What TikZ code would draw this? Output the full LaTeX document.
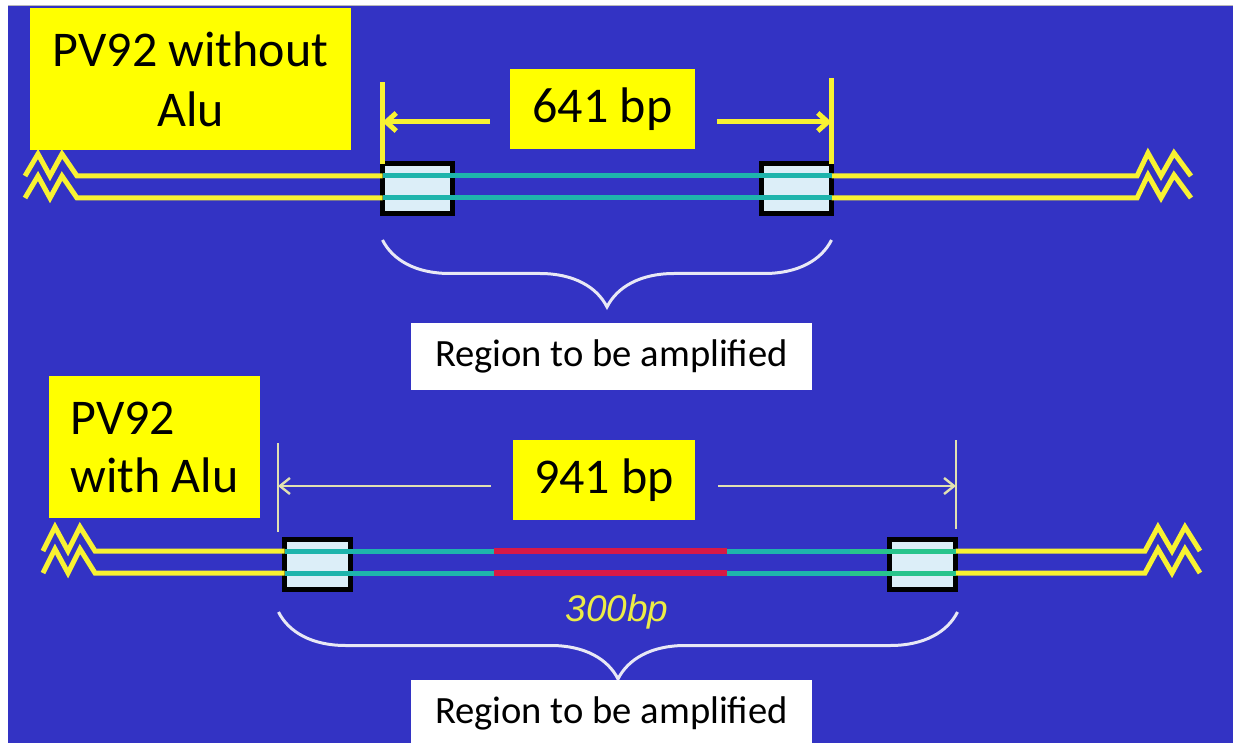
\documentclass[tikz,border=0pt]{standalone}
\usepackage{fontspec}
\setmainfont{Carlito}
\newfontfamily\arialfont{Liberation Sans}
\usetikzlibrary{arrows.meta, positioning, decorations.pathreplacing, calc}

\definecolor{bgblue}{RGB}{51,51,196}
\definecolor{labyellow}{RGB}{255,255,0}
\definecolor{strandyellow}{RGB}{248,242,50}
\definecolor{strandteal}{RGB}{30,180,172}
\definecolor{strandgreen}{RGB}{40,196,140}
\definecolor{alured}{RGB}{215,25,70}
\definecolor{primerfill}{RGB}{220,238,248}
\definecolor{bracewhite}{RGB}{232,232,245}
\definecolor{dimpale}{RGB}{225,225,178}
\definecolor{sizeyellow}{RGB}{236,236,70}

\tikzset{
    labelbox/.style={fill=labyellow, text=black, inner sep=0pt, outer sep=0pt, font=\fontsize{25}{30}\selectfont},
    bpbox/.style={labelbox, minimum width=92.5pt, minimum height=40pt},
    regionbox/.style={fill=white, text=black, inner sep=0pt, outer sep=0pt, minimum width=200.5pt, minimum height=33.5pt, font=\fontsize{19.3}{23}\selectfont},
    primerbox/.style={draw=black, line width=2.5pt, fill=primerfill, minimum width=35pt, minimum height=25pt, inner sep=0pt, outer sep=0pt},
    strandY/.style={draw=strandyellow, line width=2.5pt},
    strandT/.style={draw=strandteal, line width=2.5pt},
    strandG/.style={draw=strandgreen, line width=2.5pt},
    strandR/.style={draw=alured, line width=3pt},
    dimA/.style={draw=strandyellow, line width=2.5pt},
    dimB/.style={draw=dimpale, line width=1.2pt},
    arrowA/.style={-{Straight Barb[length=5pt, width=9pt]}},
    arrowB/.style={-{Straight Barb[length=5pt, width=8pt]}},
    bracemark/.style={draw=bracewhite, line width=1.5pt, decorate, decoration={brace, mirror, amplitude=33.5pt}}
}

\begin{document}
\begin{tikzpicture}[x=0.5pt, y=-0.5pt]
    \useasboundingbox (0,0) rectangle (1233,743);
    \fill[white] (0,0) rectangle (1233,743);
    \fill[bgblue] (8,6) rectangle (1233,743);
    \draw[gray!55, line width=0.8pt] (8,5.5) -- (1233,5.5);

    % PV92 without Alu
    \node (labA) [labelbox, minimum width=160.5pt, minimum height=71pt, align=center] at (190.5,79) {PV92 without\\Alu};
    \node (bpA) [bpbox] at (602.5,109) {641 bp};
    \node (pA1) [primerbox] at (417.5,189) {};
    \node (pA2) [primerbox, right=154.5pt of pA1] {};
    \node (regA) [regionbox] at (611.5,356.5) {Region to be amplified};

    \coordinate (zA1) at (77,189);
    \coordinate (zA2) at (1137,189);
    \foreach \s in {6.5pt,-4.5pt}{
        \draw[strandY] ([yshift=\s]pA1.west) -- ([yshift=\s]zA1) -- ++(-15,-22) -- ++(-12,22) -- ++(-12,-22) -- ++(-13,22);
        \draw[strandY] ([yshift=\s]pA2.east) -- ([yshift=\s]zA2) -- ++(11,-23) -- ++(13,23) -- ++(13,-23) -- ++(17,23);
        \draw[strandT] ([yshift=\s]pA1.west) -- ([yshift=\s]pA2.east);
    }

    \draw[dimA] (pA1.north west) -- ++(0,-82);
    \draw[dimA] (pA2.north east) -- ++(0,-86);
    \coordinate (yA1) at (490,122);
    \coordinate (yA2) at (717,122);
    \draw[dimA, arrowA] (yA1) -- (yA1 -| pA1.north west);
    \draw[dimA, arrowA] (yA2) -- (yA2 -| pA2.north east);

    \draw[bracemark] ([yshift=-13pt]pA1.south west) -- ([yshift=-13pt]pA2.south east);

    % PV92 with Alu
    \node (labB) [labelbox, minimum width=105.5pt, minimum height=71pt, align=left, font=\fontsize{25}{29}\selectfont] at (154.5,447) {PV92\\with Alu};
    \node (bpB) [bpbox, minimum width=91pt] at (604,480) {941 bp};
    \node (pB1) [primerbox, minimum width=33pt] at (317.5,564) {};
    \node (pB2) [primerbox, minimum width=33pt, right=269.5pt of pB1] {};
    \node (size) [font=\arialfont\itshape\fontsize{18.5}{22}\selectfont, text=sizeyellow] at (617,612) {300bp};

    \coordinate (zB1) at (95,564);
    \coordinate (zB2) at (1145,564);
    \coordinate (aluL) at (494,564);
    \coordinate (aluR) at (727,564);
    \coordinate (grn) at (850,564);
    \foreach \s in {6.5pt,-4.5pt}{
        \draw[strandY] ([yshift=\s]pB1.west) -- ([yshift=\s]zB1) -- ++(-15,-24) -- ++(-12,24) -- ++(-13,-24) -- ++(-12,24);
        \draw[strandY] ([yshift=\s]pB2.east) -- ([yshift=\s]zB2) -- ++(13,-24) -- ++(14,24) -- ++(13,-24) -- ++(15,24);
        \draw[strandT] ([yshift=\s]pB1.west) -- ([yshift=\s]aluL);
        \draw[strandR] ([yshift=\s]aluL) -- ([yshift=\s]aluR);
        \draw[strandT] ([yshift=\s]aluR) -- ([yshift=\s]grn);
        \draw[strandG] ([yshift=\s]grn) -- ([yshift=\s]pB2.east);
    }

    \coordinate (vB1) at (278,532);
    \coordinate (vB2) at (956,529);
    \draw[dimB] (vB1) -- ++(0,-89);
    \draw[dimB] (vB2) -- ++(0,-89);
    \coordinate (yB1) at (491,486);
    \coordinate (yB2) at (718,486);
    \draw[dimB, arrowB] (yB1) -- (yB1 -| vB1);
    \draw[dimB, arrowB] (yB2) -- (yB2 -| vB2);

    \draw[bracemark] ([xshift=-3pt, yshift=-11.5pt]pB1.south west) -- ([xshift=1pt, yshift=-11.5pt]pB2.south east);
    \node (regB) [regionbox] at (611.5,713.5) {Region to be amplified};
\end{tikzpicture}
\end{document}
